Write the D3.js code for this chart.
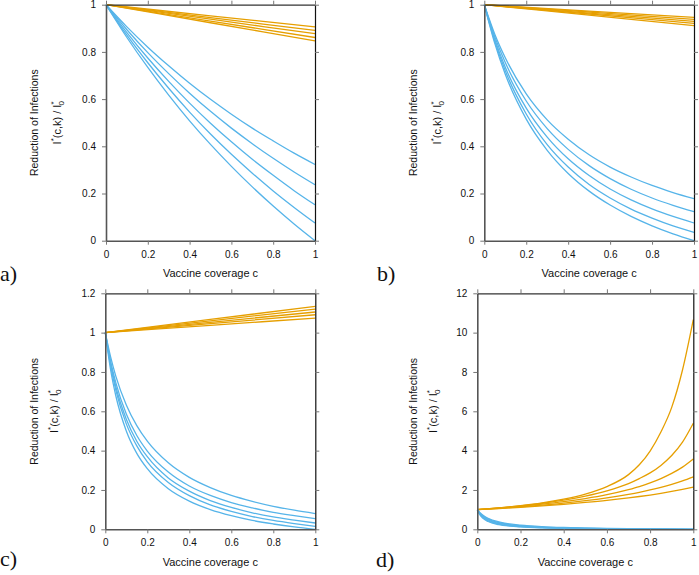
<!DOCTYPE html>
<html>
<head>
<meta charset="utf-8">
<script src="https://cdnjs.cloudflare.com/ajax/libs/d3/7.8.5/d3.min.js"></script>
<style>
  body{margin:0;background:#fff;}
  svg{display:block;}
</style>
</head>
<body>
<svg id="fig"></svg>
<script>
// x ticks shared by all panels
const x_ticks = [0,0.2,0.4,0.6,0.8,1]
const y_ticks_unit = [0,0.2,0.4,0.6,0.8,1]
const y_ticks_c = [0,0.2,0.4,0.6,0.8,1,1.2]
const y_ticks_d = [0,2,4,6,8,10,12]

// panel a
const coverage_a = [0,0.1,0.2,0.3,0.4,0.5,0.6,0.7,0.8,0.9,1]
const blue_a = [
    [1,0.906,0.820,0.741,0.667,0.599,0.536,0.477,0.423,0.371,0.323],
    [1,0.894,0.797,0.708,0.625,0.548,0.477,0.411,0.349,0.291,0.237],
    [1,0.882,0.774,0.675,0.583,0.498,0.419,0.345,0.277,0.212,0.152],
    [1,0.871,0.754,0.646,0.545,0.452,0.366,0.286,0.211,0.141,0.075],
    [1,0.861,0.734,0.617,0.508,0.408,0.315,0.228,0.147,0.071,0]
]
const coverage_lin = [0,0.5,1]
const orange_a = [
    [1,0.953,0.906],[1,0.9455,0.891],[1,0.9385,0.877],[1,0.9305,0.861],[1,0.9235,0.847]
]

// panel b
const coverage_b = [0,0.05,0.1,0.2,0.3,0.4,0.5,0.6,0.7,0.8,0.9,1]
const blue_b = [
    [1,0.875,0.775,0.622,0.512,0.430,0.364,0.312,0.270,0.234,0.204,0.178],
    [1,0.864,0.755,0.592,0.475,0.387,0.318,0.263,0.218,0.181,0.150,0.123],
    [1,0.853,0.735,0.562,0.439,0.347,0.276,0.219,0.173,0.135,0.103,0.075],
    [1,0.845,0.720,0.537,0.407,0.312,0.238,0.181,0.134,0.096,0.063,0.035],
    [1,0.836,0.705,0.515,0.383,0.285,0.210,0.151,0.103,0.063,0.029,0]
]
const orange_b = [
    [1,0.973,0.946],[1,0.969,0.938],[1,0.9645,0.929],[1,0.9605,0.921],[1,0.9555,0.911]
]

// panel c
const coverage_c = [0,0.025,0.05,0.1,0.15,0.2,0.3,0.4,0.5,0.6,0.7,0.8,0.9,1]
const blue_c = [
    [1,0.878,0.779,0.632,0.527,0.448,0.338,0.264,0.212,0.172,0.142,0.117,0.097,0.080],
    [1,0.856,0.746,0.586,0.477,0.398,0.291,0.220,0.172,0.136,0.109,0.086,0.069,0.054],
    [1,0.844,0.726,0.560,0.448,0.369,0.261,0.194,0.146,0.111,0.084,0.063,0.047,0.032],
    [1,0.833,0.708,0.536,0.424,0.343,0.238,0.171,0.124,0.091,0.065,0.045,0.029,0.015],
    [1,0.8125,0.679,0.5,0.386,0.308,0.206,0.143,0.1,0.069,0.045,0.027,0.012,0]
]
const orange_c = [
    [1,1.067,1.134],[1,1.060,1.120],[1,1.0525,1.105],[1,1.0455,1.091],[1,1.037,1.074]
]

// panel d
const coverage_d_orange = [0,0.1,0.2,0.3,0.4,0.5,0.6,0.7,0.75,0.8,0.85,0.9,0.95,1]
const orange_d = [
    [1,1.09,1.20,1.34,1.53,1.79,2.17,2.78,3.28,3.98,4.95,6.20,8.10,10.66],
    [1,1.089,1.195,1.323,1.483,1.687,1.955,2.322,2.580,2.87,3.25,3.75,4.43,5.39],
    [1,1.078,1.168,1.276,1.404,1.563,1.761,2.016,2.170,2.358,2.578,2.841,3.16,3.57],
    [1,1.067,1.143,1.232,1.333,1.455,1.601,1.779,1.882,2.0,2.134,2.288,2.466,2.67],
    [1,1.056,1.119,1.191,1.271,1.364,1.469,1.596,1.667,1.743,1.829,1.923,2.027,2.14]
]
const coverage_d_blue = [0,0.01,0.025,0.05,0.1,0.15,0.2,0.3,0.4,0.5,0.6,0.8,1]
const blue_d = [
    [1,0.868,0.722,0.559,0.375,0.274,0.211,0.135,0.091,0.063,0.043,0.016,0],
    [1,0.846,0.684,0.514,0.333,0.239,0.182,0.115,0.077,0.053,0.036,0.014,0],
    [1,0.825,0.650,0.475,0.300,0.213,0.160,0.100,0.067,0.045,0.031,0.012,0],
    [1,0.798,0.609,0.432,0.265,0.185,0.138,0.085,0.057,0.038,0.026,0.010,0],
    [1,0.773,0.574,0.396,0.237,0.163,0.121,0.074,0.049,0.033,0.022,0.009,0]
]

const BLUE = "#56B4E9"
const ORANGE = "#E69F00"
const FONT = "Liberation Sans, Arial, Helvetica, sans-serif"

class Coverage_panel{
    constructor(config,lines){
        this.config = {
            parent:config.parent,
            left:config.left,
            right:config.right,
            top:config.top,
            bottom:config.bottom,
            ymax:config.ymax,
            yticks:config.yticks,
            ylab1_x:config.ylab1_x,
            ylab2_x:config.ylab2_x,
            xlab_y:config.xlab_y,
            letter:config.letter,
            letter_x:config.letter_x,
            letter_y:config.letter_y
        }
        this.lines = lines
        this.init()
    }
    init(){
        let self = this;
        self.chart = self.config.parent.append("g")
        self.xscale = d3.scaleLinear()
            .domain([0,1])
            .range([self.config.left,self.config.right])
        self.yscale = d3.scaleLinear()
            .domain([0,self.config.ymax])
            .range([self.config.bottom,self.config.top])
        self.line = d3.line()
            .x(d=>self.xscale(d[0]))
            .y(d=>self.yscale(d[1]))
            .curve(d3.curveMonotoneX)
    }
    render(){
        let self = this;
        const c = self.config

        self.chart.selectAll("path.curve")
            .data(self.lines)
            .join("path")
            .attr("class","curve")
            .attr("fill","none")
            .attr("stroke",d=>d.color)
            .attr("stroke-width",1.3)
            .attr("d",d=>self.line(d.x.map((v,i)=>[v,d.y[i]])))

        const fmt = d=>String(d)
        const axes = [
            {axis:d3.axisBottom(self.xscale).tickValues(x_ticks).tickFormat(fmt),t:`translate(0,${c.bottom})`,w:1.6,col:"#555"},
            {axis:d3.axisLeft(self.yscale).tickValues(c.yticks).tickFormat(fmt),t:`translate(${c.left},0)`,w:1.6,col:"#555"},
            {axis:d3.axisTop(self.xscale).tickValues(x_ticks).tickFormat(""),t:`translate(0,${c.top})`,w:1.2,col:"#333"},
            {axis:d3.axisRight(self.yscale).tickValues(c.yticks).tickFormat(""),t:`translate(${c.right},0)`,w:1.2,col:"#111"}
        ]
        axes.forEach(a=>{
            const g = self.chart.append("g")
                .attr("transform",a.t)
                .call(a.axis.tickSize(4).tickSizeOuter(0).tickPadding(6))
            g.select(".domain").attr("stroke",a.col).attr("stroke-width",a.w)
            g.selectAll(".tick line").attr("stroke","#777").attr("stroke-width",1)
            g.selectAll(".tick text")
                .attr("font-family",FONT)
                .attr("font-size",10)
                .attr("fill","#111")
        })

        const ymid = (c.top+c.bottom)/2
        self.chart.append("text")
            .attr("transform",`translate(${c.ylab1_x},${ymid}) rotate(-90)`)
            .attr("text-anchor","middle")
            .attr("font-family",FONT)
            .attr("font-size",10.5)
            .attr("fill","#111")
            .text("Reduction of Infections")

        const t2 = self.chart.append("text")
            .attr("transform",`translate(${c.ylab2_x},${ymid}) rotate(-90)`)
            .attr("text-anchor","middle")
            .attr("font-family",FONT)
            .attr("font-size",11)
            .attr("fill","#111")
        t2.append("tspan").text("I")
        t2.append("tspan").attr("dy",-5).attr("font-size",8).text("*")
        t2.append("tspan").attr("dy",5).text("(c,k) / I")
        t2.append("tspan").attr("dy",-5).attr("font-size",8).text("*")
        t2.append("tspan").attr("dy",8).attr("dx",-4).attr("font-size",8).text("0")

        self.chart.append("text")
            .attr("x",(c.left+c.right)/2)
            .attr("y",c.xlab_y)
            .attr("text-anchor","middle")
            .attr("font-family",FONT)
            .attr("font-size",11)
            .attr("fill","#111")
            .text("Vaccine coverage c")

        self.chart.append("text")
            .attr("x",c.letter_x)
            .attr("y",c.letter_y)
            .attr("font-family","Liberation Serif, DejaVu Serif, serif")
            .attr("font-size",22)
            .attr("fill","#111")
            .text(c.letter)
    }
}

function make_lines(cov_b,blues,cov_o,oranges){
    let out = []
    oranges.forEach(y=>out.push({x:cov_o,y:y,color:ORANGE}))
    blues.forEach(y=>out.push({x:cov_b,y:y,color:BLUE}))
    return out
}

const svg = d3.select("#fig").attr("width",699).attr("height",575)

const panels = [
    [{parent:svg,left:106,right:315,top:4.7,bottom:240.7,ymax:1,yticks:y_ticks_unit,
      ylab1_x:38,ylab2_x:61,xlab_y:277,letter:"a)",letter_x:0,letter_y:281},
     make_lines(coverage_a,blue_a,coverage_lin,orange_a)],
    [{parent:svg,left:484.3,right:694,top:4.7,bottom:240.7,ymax:1,yticks:y_ticks_unit,
      ylab1_x:417,ylab2_x:441,xlab_y:277,letter:"b)",letter_x:377,letter_y:281},
     make_lines(coverage_b,blue_b,coverage_lin,orange_b)],
    [{parent:svg,left:105.3,right:315.3,top:293.3,bottom:529.3,ymax:1.2,yticks:y_ticks_c,
      ylab1_x:38,ylab2_x:58,xlab_y:566,letter:"c)",letter_x:0,letter_y:566},
     make_lines(coverage_c,blue_c,coverage_lin,orange_c)],
    [{parent:svg,left:477.3,right:693.3,top:293.3,bottom:529.3,ymax:12,yticks:y_ticks_d,
      ylab1_x:417,ylab2_x:437,xlab_y:566,letter:"d)",letter_x:376,letter_y:567},
     make_lines(coverage_d_blue,blue_d,coverage_d_orange,orange_d)]
]

panels.forEach(p=>{
    let panel = new Coverage_panel(p[0],p[1])
    panel.render()
})
</script>
</body>
</html>
